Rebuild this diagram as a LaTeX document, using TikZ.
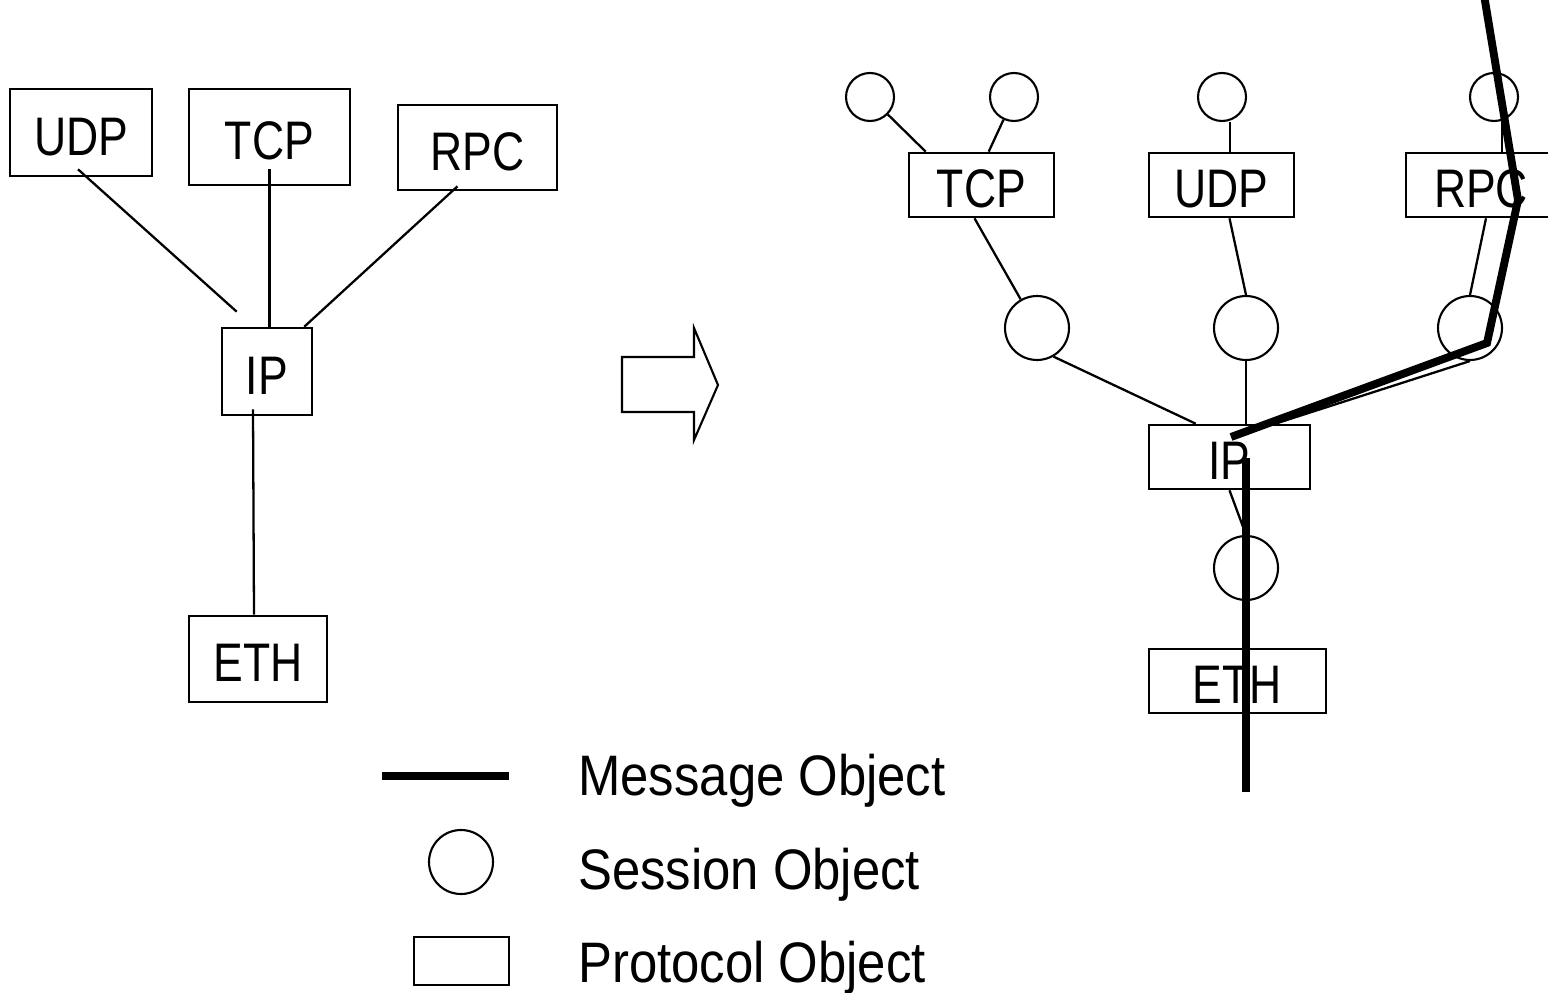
\documentclass[tikz,border=0pt]{standalone}
\usepackage{fontspec}
\setmainfont{Liberation Sans}
\newfontfamily\boxfont{Liberation Sans}[FakeStretch=0.82]
\newfontfamily\keyfont{Liberation Sans}[FakeStretch=0.89]
\begin{document}
\begin{tikzpicture}[x=0.02cm,y=-0.02cm,
  box/.style={draw,line width=1.5pt,inner sep=0pt,minimum height=1.28cm,
    text height=26pt,text depth=0pt,
    font=\boxfont\fontsize{30.9}{36}\selectfont},
  sess/.style={draw,circle,line width=1.2pt,inner sep=0pt,minimum size=1.28cm},
  small/.style={sess,minimum size=0.96cm},
  link/.style={line width=1.3pt},
  msg/.style={line width=4.5pt},
  key/.style={anchor=base west,inner sep=0pt,font=\keyfont\fontsize{32.5}{38}\selectfont}]
\useasboundingbox (0,0) rectangle (1548,993);
\clip (0,0) rectangle (1548,993);

% protocol graph
\node[box,minimum width=2.84cm,minimum height=1.74cm] (udpL) at (81,132.5) {UDP};
\node[box,minimum width=3.22cm,minimum height=1.92cm] (tcpL) at (269.5,137) {TCP};
\node[box,minimum width=3.18cm,minimum height=1.70cm] (rpcL) at (477.5,147.5) {RPC\hspace{0.5cm}};
\node[box,minimum width=1.80cm,minimum height=1.74cm] (ipL) at (267,371.5) {IP};
\node[box,minimum width=2.76cm,minimum height=1.72cm] (ethL) at (258,659) {ETH};

\draw[link] ([shift={(-3,-8)}]udpL.south) -- ([shift={(16,-15)}]ipL.north west);
\draw[link] ([shift={(0,-17)}]tcpL.south) -- (tcpL.south |- ipL.north);
\draw[link] ([shift={(-20,-5)}]rpcL.south) -- ([shift={(-9,0)}]ipL.north east);
\draw[link] ([shift={(-14,-7)}]ipL.south) -- ([shift={(-4,0)}]ethL.north);

% arrow
\draw[line width=1.2pt] (622,357) -- (694,357) -- (694,328) -- (718,385)
  -- (694,440) -- (694,412) -- (622,412) -- cycle;

% session graph
\node[box,minimum width=2.90cm] (tcpR) at (981.5,185) {TCP};
\node[box,minimum width=2.90cm] (udpR) at (1221.5,185) {UDP};
\node[box,minimum width=3.00cm] (rpcR) at (1481,185) {RPC};
\node[box,minimum width=3.22cm] (ipR) at (1229.5,457) {IP};
\node[box,minimum width=3.54cm] (ethR) at (1237.5,681) {ETH};

\node[small] (s1) at (870,97) {};
\node[small] (s2) at (1014,97) {};
\node[small] (s3) at (1222,97) {};
\node[small] (s4) at (1494,97) {};
\node[sess] (c1) at (1037,328) {};
\node[sess] (c2) at (1246,328) {};
\node[sess] (c3) at (1470,328) {};
\node[sess] (c4) at (1246,568) {};

\draw[link] (s1) -- ([shift={(18,0)}]tcpR.north west);
\draw[link] (s2) -- ([shift={(81,0)}]tcpR.north west);
\draw[link] ([shift={(8,0)}]s3.south) -- ([shift={(8,0)}]s3.south |- udpR.north);
\draw[link] ([shift={(8,0)}]s4.south) -- ([shift={(8,0)}]s4.south |- rpcR.north);
\draw[link] ([shift={(-7,0)}]tcpR.south) -- (c1);
\draw[link] ([shift={(8,0)}]udpR.south) -- (c2.north);
\draw[link] ([shift={(5,0)}]rpcR.south) -- (c3.north);
\draw[link] (c1.-60) -- ([shift={(48,0)}]ipR.north west);
\draw[link] (c2.south) -- (c2.south |- ipR.north);
\draw[link] (c3.south) -- ([shift={(-36,0)}]ipR.north east);
\draw[link] (ipR.south) -- (c4.north);

% message
\coordinate (m0) at (1484,-5);
\coordinate (m1) at (1518,200);
\coordinate (m2) at (1487,343);
\coordinate (m3) at (1231,437);
\coordinate (m4) at (1246,458);
\coordinate (m5) at (1246,792);
\draw[msg] (m0) -- (m1) -- (m2) -- (m3);
\draw[msg] (m4) -- (m5);

% legend
\coordinate (k0) at (382,776);
\coordinate (k1) at (509,776);
\draw[line width=5pt] (k0) -- (k1);
\node[sess] (keyc) at (461,862) {};
\node[draw,line width=1.2pt,minimum width=1.90cm,minimum height=0.96cm] (keyp) at (461.5,961) {};
\node[key] (msgtxt) at (578,795) {Message Object};
\node[key] (sestxt) at (578,889) {Session Object};
\node[key] (prttxt) at (578,982) {Protocol Object};
\end{tikzpicture}
\end{document}
